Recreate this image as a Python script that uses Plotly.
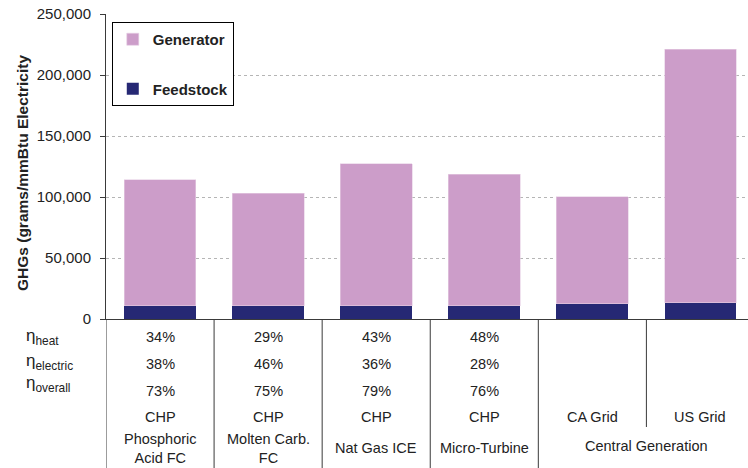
"""Stacked GHG emissions bars with an efficiency table under the axis."""

import plotly.graph_objects as go

CATEGORIES = ["PAFC", "MCFC", "ICE", "MT", "CA", "US"]
FEEDSTOCK = [11000, 11000, 11000, 11000, 12300, 13400]
GENERATOR = [103000, 92000, 116400, 107700, 87900, 207600]

ETA_HEAT = ["34%", "29%", "43%", "48%", "", ""]
ETA_ELECTRIC = ["38%", "46%", "36%", "28%", "", ""]
ETA_OVERALL = ["73%", "75%", "79%", "76%", "", ""]
SYSTEM = ["CHP", "CHP", "CHP", "CHP", "CA Grid", "US Grid"]
TECH_LABELS = ["Phosphoric<br>Acid FC", "Molten Carb.<br>FC", "Nat Gas ICE", "Micro-Turbine"]
GROUP_LABEL = "Central Generation"
ROW_LABELS = ["η<sub>heat</sub>", "η<sub>electric</sub>", "η<sub>overall</sub>"]

FONT = "Liberation Sans, Arial, sans-serif"
TEXT = "#222222"
LINE = "#3a3a3a"

# plot area is 305 px tall, x=0 sits at 319 px from the top
PLOT_LEFT = 106
PLOT_TOP = 14
PLOT_BOTTOM = 319
PLOT_H = PLOT_BOTTOM - PLOT_TOP


def py(pixel_y):
    """Convert a page pixel row into paper y."""
    return (PLOT_BOTTOM - pixel_y) / PLOT_H


fig = go.Figure()
fig.add_trace(go.Bar(
    x=CATEGORIES, y=FEEDSTOCK, name="<b>Feedstock</b>", width=0.665,
    marker=dict(color="#262874", line=dict(width=0)),
    legendgroup="f", legendrank=2,
))
fig.add_trace(go.Bar(
    x=CATEGORIES, y=GENERATOR, name="<b>Generator</b>", width=0.665,
    marker=dict(color="#cc9dc9", line=dict(color="#e6cfe4", width=0.6)),
    legendgroup="g", legendrank=1,
))

annotations = []
rows = [(ETA_HEAT, 337), (ETA_ELECTRIC, 364), (ETA_OVERALL, 391), (SYSTEM, 417)]
for values, ypix in rows:
    for cat, txt in zip(CATEGORIES, values):
        if txt:
            annotations.append(dict(
                x=cat, y=py(ypix), xref="x", yref="paper", text=txt, showarrow=False,
                xanchor="center", yanchor="middle", font=dict(size=14.5, color=TEXT),
            ))
for cat, txt in zip(CATEGORIES, TECH_LABELS):
    annotations.append(dict(
        x=cat, y=py(448), xref="x", yref="paper", text=txt, showarrow=False,
        xanchor="center", yanchor="middle", font=dict(size=14.5, color=TEXT),
    ))
annotations.append(dict(
    x=4.5, y=py(446), xref="x", yref="paper", text=GROUP_LABEL, showarrow=False,
    xanchor="center", yanchor="middle", font=dict(size=14.5, color=TEXT),
))
for txt, ypix in zip(ROW_LABELS, [337, 362, 384]):
    annotations.append(dict(
        x=0, xshift=24 - PLOT_LEFT, y=py(ypix), xref="paper", yref="paper", text=txt,
        showarrow=False, xanchor="left", yanchor="middle", font=dict(size=17, color=TEXT),
    ))
# rotated axis title
annotations.append(dict(
    x=0, xshift=22 - PLOT_LEFT, y=py(173), xref="paper", yref="paper",
    text="<b>GHGs (grams/mmBtu Electricity</b>",
    showarrow=False, textangle=-90, xanchor="center", yanchor="middle",
    font=dict(size=15.5, color=TEXT),
))

shapes = []
for xb in [-0.5, 0.5, 1.5, 2.5, 3.5]:
    shapes.append(dict(type="line", xref="x", yref="paper", x0=xb, x1=xb,
                       y0=0, y1=py(470), line=dict(color=LINE, width=1)))
shapes.append(dict(type="line", xref="x", yref="paper", x0=4.5, x1=4.5,
                   y0=0, y1=py(427), line=dict(color=LINE, width=1)))

fig.update_layout(
    width=748, height=468,
    margin=dict(l=PLOT_LEFT, r=0, t=PLOT_TOP, b=468 - PLOT_BOTTOM),
    paper_bgcolor="white", plot_bgcolor="white",
    font=dict(family=FONT, color=TEXT, size=14),
    barmode="stack",
    showlegend=True,
    legend=dict(
        x=0.009, y=py(22), xanchor="left", yanchor="top",
        traceorder="grouped", tracegroupgap=27,
        bgcolor="white", bordercolor="#000000", borderwidth=1,
        font=dict(size=15, color=TEXT, family=FONT), itemwidth=30,
    ),
    xaxis=dict(
        range=[-0.5, 5.44], showticklabels=False, ticks="", showgrid=False,
        showline=True, linecolor=LINE, linewidth=1, fixedrange=True,
    ),
    yaxis=dict(
        range=[0, 250000], dtick=50000, tickformat=",", ticks="outside", ticklen=5,
        tickcolor=LINE, showline=True, linecolor=LINE, linewidth=1,
        showgrid=True, gridcolor="#b5b5b5", griddash="dot", gridwidth=1,
        zeroline=False, tickfont=dict(size=15, color=TEXT), fixedrange=True,
        ticklabelstandoff=6,
    ),
    annotations=annotations,
    shapes=shapes,
)

fig.write_html(
    "out.html",
    config={"displayModeBar": False},
    post_script="document.body.style.margin='0';",
)
